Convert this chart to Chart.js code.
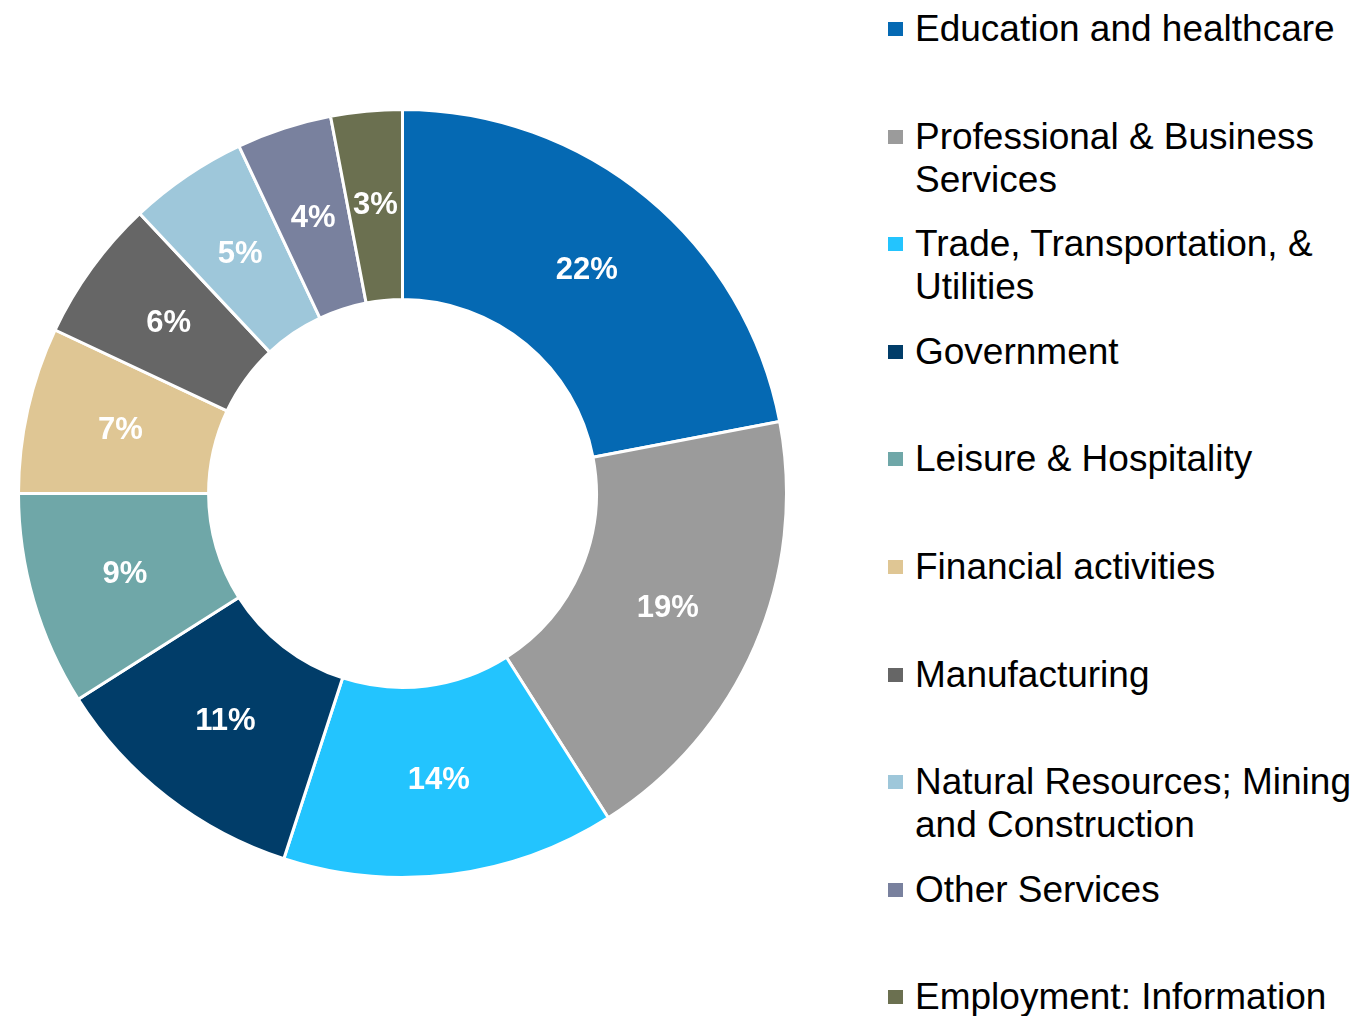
<!DOCTYPE html>
<html>
<head>
<meta charset="utf-8">
<script src="https://cdn.jsdelivr.net/npm/chart.js@4"></script>
<style>
  html, body { margin: 0; padding: 0; background: #fff; overflow: hidden; }
  body { width: 1359px; height: 1016px; position: relative; font-family: Arial, "Liberation Sans", sans-serif; }
  #wrap { position: absolute; left: 17px; top: 108px; width: 771px; height: 771px; }
  #legend { position: absolute; left: 888px; top: 7px; width: 471px; }
  .item { position: relative; height: 107.6px; }
  .box { position: absolute; left: 0; top: 15px; width: 15px; height: 14px; }
  .text { position: absolute; left: 27px; top: 0; width: 444px; font-size: 37px; line-height: 43px; color: #000; }
</style>
</head>
<body>
<div id="wrap"><canvas id="sectorChart"></canvas></div>
<div id="legend"></div>
<script>
// Employment share by sector
const sectors = [
  'Education and healthcare',
  'Professional & Business Services',
  'Trade, Transportation, & Utilities',
  'Government',
  'Leisure & Hospitality',
  'Financial activities',
  'Manufacturing',
  'Natural Resources; Mining and Construction',
  'Other Services',
  'Employment: Information'
];
const shares = [22, 19, 14, 11, 9, 7, 6, 5, 4, 3];
const sectorColors = [
  '#0569B3', '#9B9B9B', '#23C4FE', '#013D69', '#6FA7A8',
  '#DFC694', '#666666', '#9EC7DA', '#79819E', '#6B7050'
];

// white percentage labels at the middle of each ring segment
const sliceLabels = {
  id: 'sliceLabels',
  afterDatasetsDraw(chart) {
    const ctx = chart.ctx;
    const meta = chart.getDatasetMeta(0);
    ctx.save();
    ctx.fillStyle = '#fff';
    ctx.font = 'bold 31px Arial, "Liberation Sans", sans-serif';
    ctx.textAlign = 'center';
    ctx.textBaseline = 'middle';
    meta.data.forEach((arc, i) => {
      const p = arc.getCenterPoint();
      ctx.fillText(shares[i] + '%', p.x, p.y);
    });
    ctx.restore();
  }
};

new Chart(document.getElementById('sectorChart'), {
  type: 'doughnut',
  data: {
    labels: sectors,
    datasets: [{
      data: shares,
      backgroundColor: sectorColors,
      borderColor: '#fff',
      borderWidth: 3
    }]
  },
  options: {
    responsive: true,
    maintainAspectRatio: false,
    animation: false,
    cutout: '50.5%',
    layout: { padding: 0 },
    plugins: {
      legend: { display: false },
      tooltip: { enabled: false }
    }
  },
  plugins: [sliceLabels]
});

// legend on the right
const legend = document.getElementById('legend');
sectors.forEach((name, i) => {
  const item = document.createElement('div');
  item.className = 'item';
  const box = document.createElement('span');
  box.className = 'box';
  box.style.background = sectorColors[i];
  const text = document.createElement('span');
  text.className = 'text';
  text.textContent = name;
  item.appendChild(box);
  item.appendChild(text);
  legend.appendChild(item);
});
</script>
</body>
</html>
